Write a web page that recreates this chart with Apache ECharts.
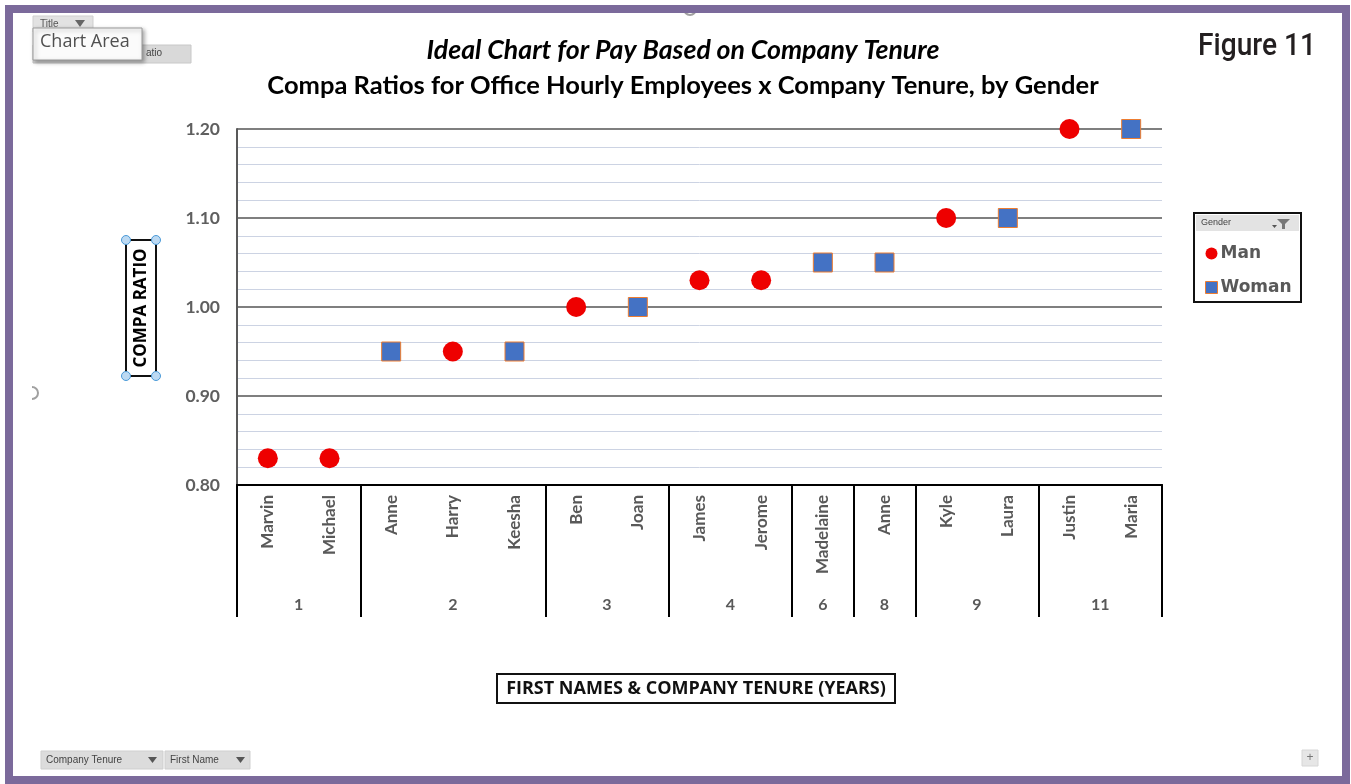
<!DOCTYPE html>
<html>
<head>
<meta charset="utf-8">
<script src="https://cdn.jsdelivr.net/npm/echarts@6/dist/echarts.min.js"></script>
<style>
  html, body { margin: 0; padding: 0; background: #ffffff; }
  #chart { width: 1351px; height: 784px; }
</style>
</head>
<body>
<div id="chart"></div>
<script>
// Employees in order of tenure
const firstNames = ['Marvin', 'Michael', 'Anne', 'Harry', 'Keesha', 'Ben', 'Joan', 'James', 'Jerome', 'Madelaine', 'Anne', 'Kyle', 'Laura', 'Justin', 'Maria'];
const tenureYears = [1, 1, 2, 2, 2, 3, 3, 4, 4, 6, 8, 9, 9, 11, 11];
const genders = ['Man', 'Man', 'Woman', 'Man', 'Woman', 'Man', 'Woman', 'Man', 'Man', 'Woman', 'Woman', 'Man', 'Woman', 'Man', 'Woman'];
const compaRatios = [0.83, 0.83, 0.95, 0.95, 0.95, 1.00, 1.00, 1.03, 1.03, 1.05, 1.05, 1.10, 1.10, 1.20, 1.20];
const yTicks = [0.8, 0.9, 1.0, 1.1, 1.2];

// Group consecutive tenure values into blocks for the outer axis
const groups = [];
tenureYears.forEach((t, i) => {
  const last = groups[groups.length - 1];
  if (last && last.tenure === t) last.count++;
  else groups.push({ tenure: t, start: i, count: 1 });
});
const groupEdges = [0].concat(groups.map(g => g.start + g.count));
const groupCenters = groups.map(g => g.start + g.count / 2);
const centerLabel = {};
groups.forEach((g, i) => { centerLabel[groupCenters[i].toFixed(2)] = String(g.tenure); });

const seriesFor = (g) => compaRatios.map((v, i) => genders[i] === g ? v : null);

const chart = echarts.init(document.getElementById('chart'));
const grey = '#595959';
const gridL = 237, gridR = 1162, gridT = 129, gridB = 485;

const graphics = [
  // outer purple frame
  { type: 'rect', silent: true, z: 100, shape: { x: 9, y: 9, width: 1337, height: 771 },
    style: { fill: 'none', stroke: '#7b6a9b', lineWidth: 8 } },
  // Figure label (condensed)
  { type: 'text', x: 1198, y: 47, scaleX: 0.88, z: 100,
    style: { text: 'Figure 11', font: '500 32px Roboto, sans-serif', fill: '#231f20', verticalAlign: 'middle' } },
  // pivot field buttons top-left
  { type: 'rect', shape: { x: 33, y: 45, width: 158, height: 18 }, style: { fill: '#d9d9d9', stroke: '#c8c8c8' } },
  { type: 'text', left: 146, top: 48, style: { text: 'atio', font: '10px "Liberation Sans", sans-serif', fill: '#444' } },
  { type: 'rect', shape: { x: 33, y: 16, width: 60, height: 16 }, style: { fill: '#e2e2e2', stroke: '#cfcfcf' } },
  { type: 'text', left: 40, top: 19, style: { text: 'Title', font: '10px "Liberation Sans", sans-serif', fill: '#555' } },
  { type: 'polygon', shape: { points: [[75, 20], [85, 20], [80, 27]] }, style: { fill: '#666' } },
  { type: 'rect', shape: { x: 33, y: 28, width: 109, height: 32 },
    style: { fill: '#fbfbfb', stroke: '#9a9a9a', lineWidth: 1, shadowBlur: 4, shadowColor: 'rgba(0,0,0,0.35)', shadowOffsetX: 2, shadowOffsetY: 2 } },
  { type: 'text', left: 40, top: 33, style: { text: 'Chart Area', font: '18px "Open Sans", sans-serif', fill: '#505050' } },
  // selection handles
  { type: 'arc', shape: { cx: 690, cy: 9, r: 6, startAngle: 0, endAngle: Math.PI }, style: { fill: 'none', stroke: '#a0a0a0', lineWidth: 2 } },
  { type: 'arc', shape: { cx: 32, cy: 393, r: 6, startAngle: -Math.PI / 2, endAngle: Math.PI / 2 }, style: { fill: 'none', stroke: '#a0a0a0', lineWidth: 2 } },
  // y axis title box
  { type: 'rect', shape: { x: 126, y: 240, width: 30, height: 136 }, style: { fill: '#fff', stroke: '#111', lineWidth: 2 } },
  { type: 'text', x: 141, y: 308, rotation: Math.PI / 2,
    style: { text: 'COMPA RATIO', font: 'bold 17px "Open Sans", sans-serif', fill: '#000', align: 'center', verticalAlign: 'middle' } },
  ...[[126, 240], [156, 240], [126, 376], [156, 376]].map(p => ({
    type: 'circle', shape: { cx: p[0], cy: p[1], r: 4.5 }, style: { fill: '#bcd9f2', stroke: '#4a9ad8', lineWidth: 1 } })),
  // x axis title box
  { type: 'rect', shape: { x: 497, y: 674, width: 398, height: 29 }, style: { fill: '#fff', stroke: '#111', lineWidth: 2 } },
  { type: 'text', x: 696, y: 689,
    style: { text: 'FIRST NAMES & COMPANY TENURE (YEARS)', font: 'bold 18px "Open Sans", sans-serif', fill: '#111', align: 'center', verticalAlign: 'middle' } },
  // legend frame with field header
  { type: 'rect', shape: { x: 1194, y: 213, width: 107, height: 89 }, style: { fill: '#fff', stroke: '#111', lineWidth: 2 } },
  { type: 'rect', shape: { x: 1196, y: 215, width: 103, height: 16 }, style: { fill: '#e3e3e3' } },
  { type: 'text', left: 1201, top: 218, style: { text: 'Gender', font: '9px "Liberation Sans", sans-serif', fill: '#444' } },
  { type: 'polygon', shape: { points: [[1277, 219], [1290, 219], [1285, 224], [1285, 229], [1282, 229], [1282, 224]] }, style: { fill: '#777' } },
  { type: 'polygon', shape: { points: [[1272, 225], [1277, 225], [1274.5, 228]] }, style: { fill: '#555' } },
  // bottom pivot buttons
  { type: 'rect', shape: { x: 41, y: 751, width: 122, height: 18 }, style: { fill: '#dcdcdc', stroke: '#cfcfcf' } },
  { type: 'text', left: 46, top: 755, style: { text: 'Company Tenure', font: '10px "Liberation Sans", sans-serif', fill: '#444' } },
  { type: 'polygon', shape: { points: [[148, 757], [157, 757], [152.5, 763]] }, style: { fill: '#555' } },
  { type: 'rect', shape: { x: 165, y: 751, width: 85, height: 18 }, style: { fill: '#dcdcdc', stroke: '#cfcfcf' } },
  { type: 'text', left: 170, top: 755, style: { text: 'First Name', font: '10px "Liberation Sans", sans-serif', fill: '#444' } },
  { type: 'polygon', shape: { points: [[236, 757], [245, 757], [240.5, 763]] }, style: { fill: '#555' } },
  // expand button
  { type: 'rect', shape: { x: 1302, y: 750, width: 16, height: 16 }, style: { fill: '#e6e6e6', stroke: '#d6d6d6' } },
  { type: 'text', x: 1310, y: 758, style: { text: '+', font: '12px sans-serif', fill: '#777', align: 'center', verticalAlign: 'middle' } }
];

chart.setOption({
  animation: false,
  backgroundColor: '#ffffff',
  title: [
    { text: 'Ideal Chart for Pay Based on Company Tenure', left: 678, top: 32, textAlign: 'center',
      textStyle: { fontFamily: 'Lato', fontStyle: 'italic', fontWeight: 'bold', fontSize: 26.7, color: '#000' } },
    { text: 'Compa Ratios for Office Hourly Employees x Company Tenure, by Gender', left: 678, top: 68, textAlign: 'center',
      textStyle: { fontFamily: 'Lato', fontWeight: 'bold', fontSize: 25.5, color: '#000' } }
  ],
  legend: {
    orient: 'vertical', left: 1200, top: 240, itemGap: 17, itemWidth: 12, itemHeight: 12,
    data: [
      { name: 'Man', icon: 'circle' },
      { name: 'Woman', icon: 'rect', itemStyle: { borderColor: '#ed7d31', borderWidth: 1 } }
    ],
    textStyle: { fontFamily: 'DejaVu Sans', fontWeight: 'bold', fontSize: 17, color: grey, padding: [0, 0, 0, -2] }
  },
  grid: { left: gridL, right: 1351 - gridR, top: gridT, bottom: 784 - gridB },
  xAxis: [
    {
      type: 'category', data: firstNames, boundaryGap: true,
      axisLine: { lineStyle: { color: '#000', width: 2 } },
      axisTick: { show: false },
      axisLabel: { rotate: 90, margin: 10, interval: 0, fontFamily: 'Lato', fontWeight: 'bold', fontSize: 17, color: grey }
    },
    {
      type: 'value', min: 0, max: firstNames.length, position: 'bottom',
      axisLine: { show: true, lineStyle: { color: '#000', width: 2 } },
      splitLine: { show: false },
      axisTick: { show: true, customValues: groupEdges, length: 132, lineStyle: { color: '#000', width: 2 } },
      axisLabel: { customValues: groupCenters, margin: 112, formatter: v => centerLabel[v.toFixed(2)] || '',
        fontFamily: 'Lato', fontWeight: 'bold', fontSize: 16, color: grey }
    }
  ],
  yAxis: {
    type: 'value', min: yTicks[0], max: yTicks[yTicks.length - 1], interval: 0.1,
    axisLine: { show: true, lineStyle: { color: '#595959', width: 2 } },
    axisTick: { show: false },
    axisLabel: { margin: 17, formatter: v => v.toFixed(2), fontFamily: 'Lato', fontWeight: 'bold', fontSize: 17.5, color: '#5f5f5f' },
    splitLine: { lineStyle: { color: '#7f7f7f', width: 2 } },
    minorTick: { show: false, splitNumber: 5 },
    minorSplitLine: { show: true, lineStyle: { color: '#ccd3e3', width: 1 } }
  },
  series: [
    { name: 'Man', type: 'scatter', xAxisIndex: 0, data: seriesFor('Man'), symbol: 'circle', symbolSize: 20,
      itemStyle: { color: '#ee0000', opacity: 1 }, z: 5 },
    { name: 'Woman', type: 'scatter', xAxisIndex: 0, data: seriesFor('Woman'), symbol: 'rect', symbolSize: 19,
      itemStyle: { color: '#4472c4', borderColor: '#ed7d31', borderWidth: 1, opacity: 1 }, z: 5 }
  ],
  graphic: graphics
});
</script>
</body>
</html>
